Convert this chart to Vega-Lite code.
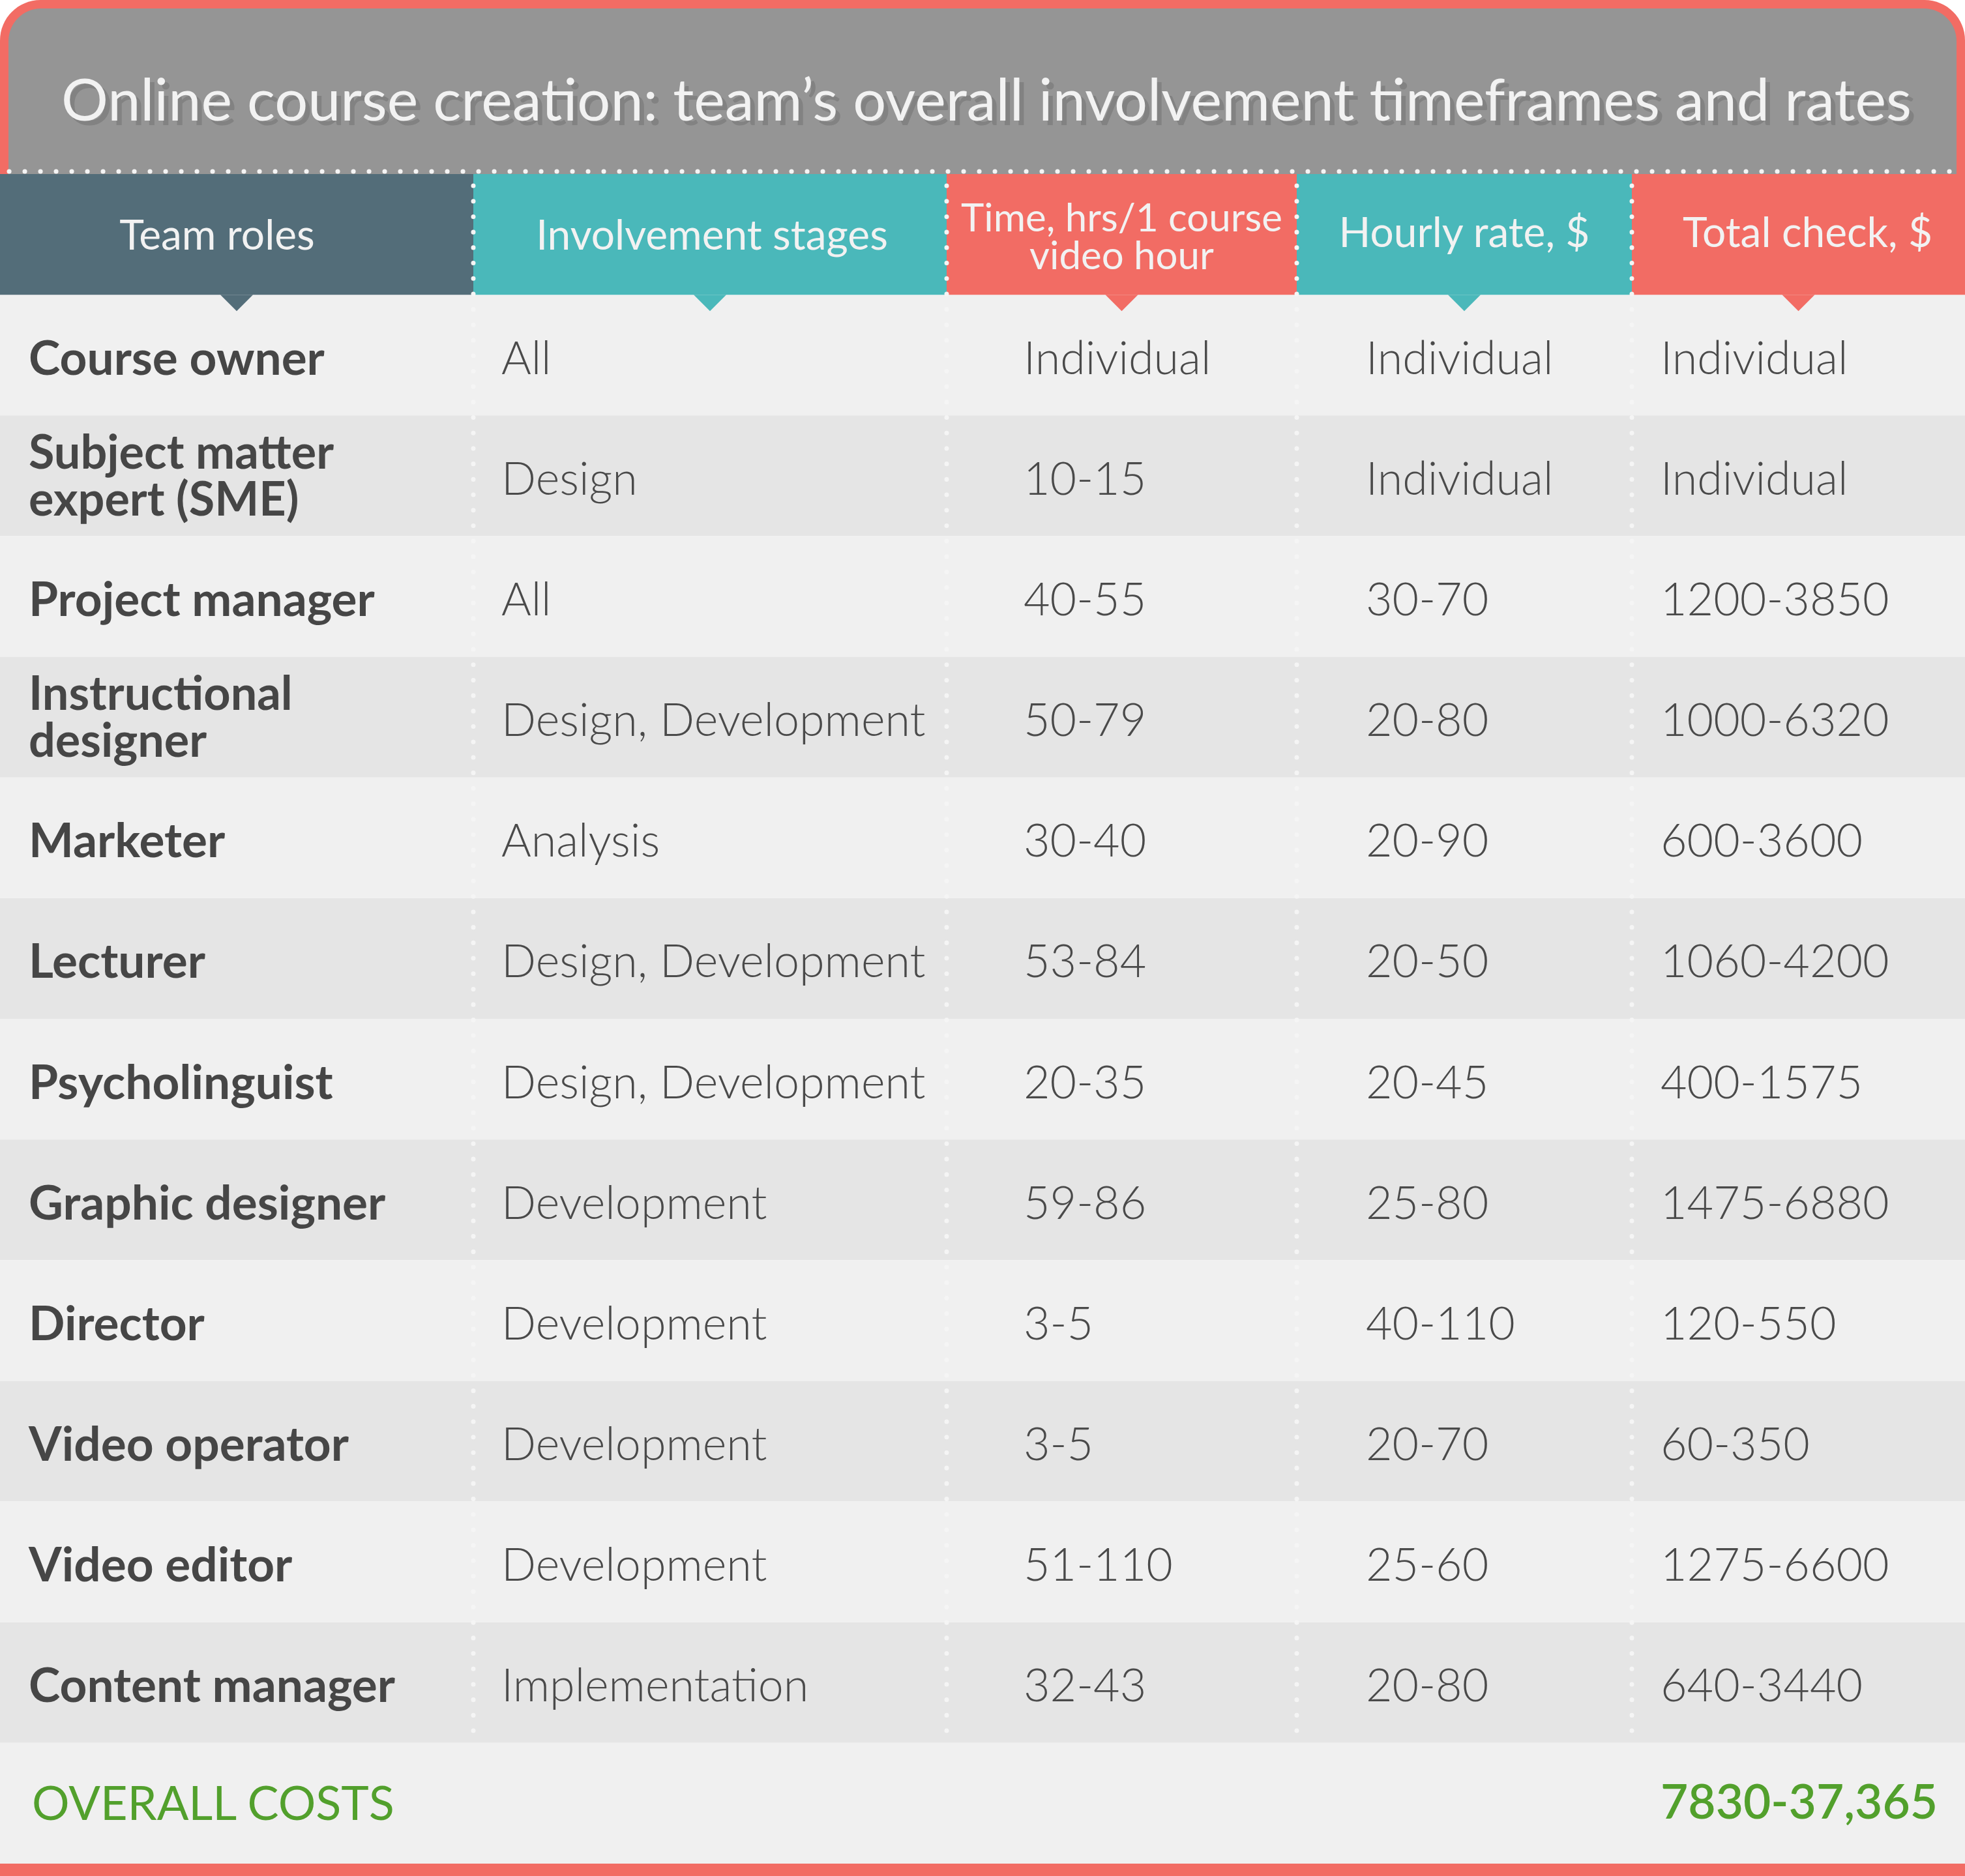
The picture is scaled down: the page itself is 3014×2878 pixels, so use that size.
{
  "$schema": "https://vega.github.io/schema/vega-lite/v6.json",
  "padding": 0,
  "background": "#ffffff",
  "config": {"view": {"stroke": null}, "font": "Lato"},
  "datasets": {
    "rows": [
      {"n": 1, "role": "Course owner", "stages": "All", "time": "Individual", "rate": "Individual", "total": "Individual"},
      {"n": 2, "role": "Subject matter\nexpert (SME)", "stages": "Design", "time": "10-15", "rate": "Individual", "total": "Individual"},
      {"n": 3, "role": "Project manager", "stages": "All", "time": "40-55", "rate": "30-70", "total": "1200-3850"},
      {"n": 4, "role": "Instructional\ndesigner", "stages": "Design, Development", "time": "50-79", "rate": "20-80", "total": "1000-6320"},
      {"n": 5, "role": "Marketer", "stages": "Analysis", "time": "30-40", "rate": "20-90", "total": "600-3600"},
      {"n": 6, "role": "Lecturer", "stages": "Design, Development", "time": "53-84", "rate": "20-50", "total": "1060-4200"},
      {"n": 7, "role": "Psycholinguist", "stages": "Design, Development", "time": "20-35", "rate": "20-45", "total": "400-1575"},
      {"n": 8, "role": "Graphic designer", "stages": "Development", "time": "59-86", "rate": "25-80", "total": "1475-6880"},
      {"n": 9, "role": "Director", "stages": "Development", "time": "3-5", "rate": "40-110", "total": "120-550"},
      {"n": 10, "role": "Video operator", "stages": "Development", "time": "3-5", "rate": "20-70", "total": "60-350"},
      {"n": 11, "role": "Video editor", "stages": "Development", "time": "51-110", "rate": "25-60", "total": "1275-6600"},
      {"n": 12, "role": "Content manager", "stages": "Implementation", "time": "32-43", "rate": "20-80", "total": "640-3440"}
    ]
  },
  "vconcat": [
    {
      "width": 3014,
      "height": 267,
      "data": {"values": [{"title": "Online course creation: team’s overall involvement timeframes and rates"}]},
      "encoding": {
        "x": {"datum": 0, "type": "quantitative", "scale": {"domain": [0, 1], "nice": false, "zero": false}, "axis": null},
        "y": {"datum": 1, "type": "quantitative", "scale": {"domain": [0, 1], "nice": false, "zero": false}, "axis": null}
      },
      "layer": [
        {"mark": {"type": "rect", "color": "#f26c64", "cornerRadiusTopLeft": 62, "cornerRadiusTopRight": 62}, "encoding": {"x2": {"datum": 1}, "y2": {"datum": 0}}},
        {"mark": {"type": "rect", "color": "#959595", "cornerRadiusTopLeft": 50, "cornerRadiusTopRight": 50, "xOffset": 13, "x2Offset": -13, "yOffset": 13}, "encoding": {"x2": {"datum": 1}, "y2": {"datum": 0}}},
        {"mark": {"type": "rule", "color": "#f5f5f5", "strokeWidth": 7, "strokeCap": "round", "strokeDash": [0.1, 23.9], "xOffset": 14, "x2Offset": -14, "yOffset": -4}, "encoding": {"y": {"datum": 0}, "x2": {"datum": 1}}},
        {"mark": {"type": "text", "color": "#828282", "font": "Lato", "fontSize": 90, "align": "center", "baseline": "alphabetic", "dx": 13, "dy": 7}, "encoding": {"x": {"datum": 0.5}, "y": {"datum": 0.307}, "text": {"field": "title"}}},
        {"mark": {"type": "text", "color": "#f2f2f2", "font": "Lato", "fontSize": 90, "align": "center", "baseline": "alphabetic", "dx": 6}, "encoding": {"x": {"datum": 0.5}, "y": {"datum": 0.307}, "text": {"field": "title"}}}
      ]
    },
    {
      "spacing": 0,
      "bounds": "flush",
      "resolve": {"scale": {"x": "independent", "y": "independent"}},
      "hconcat": [
        {
          "width": 726,
          "height": 2592,
          "encoding": {
            "x": {"datum": 0, "type": "quantitative", "scale": {"domain": [0, 1], "nice": false, "zero": false}, "axis": null},
            "y": {"field": "role", "type": "nominal", "scale": {"type": "band", "domain": ["HEAD", "Course owner", "Subject matter\nexpert (SME)", "Project manager", "Instructional\ndesigner", "Marketer", "Lecturer", "Psycholinguist", "Graphic designer", "Director", "Video operator", "Video editor", "Content manager", "TOTAL"], "paddingInner": 0, "paddingOuter": 0}, "axis": null}
          },
          "layer": [
            {"data": {"name": "rows"}, "mark": {"type": "rect"}, "encoding": {"x2": {"datum": 1}, "color": {"field": "n", "type": "ordinal", "scale": {"domain": [1,2,3,4,5,6,7,8,9,10,11,12], "range": ["#f0f0f0","#e5e5e5","#f0f0f0","#e5e5e5","#f0f0f0","#e5e5e5","#f0f0f0","#e5e5e5","#f0f0f0","#e5e5e5","#f0f0f0","#e5e5e5"]}, "legend": null}}},
            {"data": {"values": [{"role": "TOTAL", "label": "OVERALL COSTS"}]}, "layer": [
              {"mark": {"type": "rect", "color": "#f0f0f0"}, "encoding": {"x2": {"datum": 1}}},
              {"mark": {"type": "text", "color": "#52a02c", "font": "Lato", "fontSize": 72, "align": "left", "baseline": "middle", "dx": 49, "dy": 4}, "encoding": {"text": {"field": "label"}}}
            ]},
            {"data": {"values": [{"role": "HEAD", "label": "Team roles"}]}, "layer": [
              {"mark": {"type": "rect", "color": "#536d79"}, "encoding": {"x2": {"datum": 1}}},
              {"mark": {"type": "point", "shape": "M -1 0 L 1 0 L 0 1 Z", "size": 2500, "filled": true, "opacity": 1, "strokeWidth": 0, "color": "#536d79"}, "encoding": {"x": {"datum": 0.5}, "y": {"field": "role", "type": "nominal", "bandPosition": 1}}},
              {"mark": {"type": "text", "color": "#f2f2f2", "font": "Lato", "fontSize": 64, "align": "center", "baseline": "middle", "dx": -30, "dy": 4}, "encoding": {"x": {"datum": 0.5}, "text": {"field": "label"}}}
            ]},
            {"data": {"name": "rows"}, "transform": [{"filter": "indexof(datum.role, '\\n') < 0"}], "mark": {"type": "text", "color": "#464646", "font": "Lato", "fontWeight": "bold", "fontSize": 73, "align": "left", "baseline": "middle", "dx": 44, "dy": 8}, "encoding": {"text": {"field": "role"}}},
            {"data": {"name": "rows"}, "transform": [{"filter": "indexof(datum.role, '\\n') >= 0"}], "mark": {"type": "text", "color": "#464646", "font": "Lato", "fontWeight": "bold", "fontSize": 72, "align": "left", "baseline": "middle", "lineBreak": "\n", "lineHeight": 72, "dx": 44, "dy": -33}, "encoding": {"text": {"field": "role"}}}
          ]
        },
        {
          "width": 726,
          "height": 2592,
          "encoding": {
            "x": {"datum": 0, "type": "quantitative", "scale": {"domain": [0, 1], "nice": false, "zero": false}, "axis": null},
            "y": {"field": "role", "type": "nominal", "scale": {"type": "band", "domain": ["HEAD", "Course owner", "Subject matter\nexpert (SME)", "Project manager", "Instructional\ndesigner", "Marketer", "Lecturer", "Psycholinguist", "Graphic designer", "Director", "Video operator", "Video editor", "Content manager", "TOTAL"], "paddingInner": 0, "paddingOuter": 0}, "axis": null}
          },
          "layer": [
            {"data": {"name": "rows"}, "mark": {"type": "rect"}, "encoding": {"x2": {"datum": 1}, "color": {"field": "n", "type": "ordinal", "scale": {"domain": [1,2,3,4,5,6,7,8,9,10,11,12], "range": ["#f0f0f0","#e5e5e5","#f0f0f0","#e5e5e5","#f0f0f0","#e5e5e5","#f0f0f0","#e5e5e5","#f0f0f0","#e5e5e5","#f0f0f0","#e5e5e5"]}, "legend": null}}},
            {"data": {"values": [{"role": "TOTAL"}]}, "mark": {"type": "rect", "color": "#f0f0f0"}, "encoding": {"x2": {"datum": 1}}},
            {"data": {"values": [{"role": "HEAD", "label": "Involvement stages"}]}, "layer": [
              {"mark": {"type": "rect", "color": "#4ab8ba"}, "encoding": {"x2": {"datum": 1}}},
              {"mark": {"type": "point", "shape": "M -1 0 L 1 0 L 0 1 Z", "size": 2500, "filled": true, "opacity": 1, "strokeWidth": 0, "color": "#4ab8ba"}, "encoding": {"x": {"datum": 0.5}, "y": {"field": "role", "type": "nominal", "bandPosition": 1}}},
              {"mark": {"type": "text", "color": "#f2f2f2", "font": "Lato", "fontSize": 64, "align": "center", "baseline": "middle", "dx": 3, "dy": 4}, "encoding": {"x": {"datum": 0.5}, "text": {"field": "label"}}}
            ]},
            {"data": {"values": [{"k": 1}]}, "mark": {"type": "rule", "color": "#f5f5f5", "strokeWidth": 7, "strokeCap": "round", "strokeDash": [0.1, 23.6], "yOffset": 18}, "encoding": {"y": {"datum": "HEAD", "bandPosition": 0}, "y2": {"datum": "TOTAL", "bandPosition": 0}, "x": {"datum": 0}}},
            {"data": {"name": "rows"}, "mark": {"type": "text", "color": "#4a4a4a", "font": "Lato", "fontWeight": 300, "fontSize": 70, "align": "left", "baseline": "middle", "dx": 43, "dy": 8}, "encoding": {"text": {"field": "stages"}}}
          ]
        },
        {
          "width": 537,
          "height": 2592,
          "encoding": {
            "x": {"datum": 0, "type": "quantitative", "scale": {"domain": [0, 1], "nice": false, "zero": false}, "axis": null},
            "y": {"field": "role", "type": "nominal", "scale": {"type": "band", "domain": ["HEAD", "Course owner", "Subject matter\nexpert (SME)", "Project manager", "Instructional\ndesigner", "Marketer", "Lecturer", "Psycholinguist", "Graphic designer", "Director", "Video operator", "Video editor", "Content manager", "TOTAL"], "paddingInner": 0, "paddingOuter": 0}, "axis": null}
          },
          "layer": [
            {"data": {"name": "rows"}, "mark": {"type": "rect"}, "encoding": {"x2": {"datum": 1}, "color": {"field": "n", "type": "ordinal", "scale": {"domain": [1,2,3,4,5,6,7,8,9,10,11,12], "range": ["#f0f0f0","#e5e5e5","#f0f0f0","#e5e5e5","#f0f0f0","#e5e5e5","#f0f0f0","#e5e5e5","#f0f0f0","#e5e5e5","#f0f0f0","#e5e5e5"]}, "legend": null}}},
            {"data": {"values": [{"role": "TOTAL"}]}, "mark": {"type": "rect", "color": "#f0f0f0"}, "encoding": {"x2": {"datum": 1}}},
            {"data": {"values": [{"role": "HEAD", "label": "Time, hrs/1 course\nvideo hour"}]}, "layer": [
              {"mark": {"type": "rect", "color": "#f26c64"}, "encoding": {"x2": {"datum": 1}}},
              {"mark": {"type": "point", "shape": "M -1 0 L 1 0 L 0 1 Z", "size": 2500, "filled": true, "opacity": 1, "strokeWidth": 0, "color": "#f26c64"}, "encoding": {"x": {"datum": 0.5}, "y": {"field": "role", "type": "nominal", "bandPosition": 1}}},
              {"mark": {"type": "text", "color": "#f2f2f2", "font": "Lato", "fontSize": 60, "align": "center", "baseline": "middle", "lineBreak": "\n", "lineHeight": 58, "dy": -23}, "encoding": {"x": {"datum": 0.5}, "text": {"field": "label"}}}
            ]},
            {"data": {"values": [{"k": 1}]}, "mark": {"type": "rule", "color": "#f5f5f5", "strokeWidth": 7, "strokeCap": "round", "strokeDash": [0.1, 23.6], "yOffset": 18}, "encoding": {"y": {"datum": "HEAD", "bandPosition": 0}, "y2": {"datum": "TOTAL", "bandPosition": 0}, "x": {"datum": 0}}},
            {"data": {"name": "rows"}, "mark": {"type": "text", "color": "#4a4a4a", "font": "Lato", "fontWeight": 300, "fontSize": 70, "align": "left", "baseline": "middle", "dx": 118, "dy": 8}, "encoding": {"text": {"field": "time"}}}
          ]
        },
        {
          "width": 514,
          "height": 2592,
          "encoding": {
            "x": {"datum": 0, "type": "quantitative", "scale": {"domain": [0, 1], "nice": false, "zero": false}, "axis": null},
            "y": {"field": "role", "type": "nominal", "scale": {"type": "band", "domain": ["HEAD", "Course owner", "Subject matter\nexpert (SME)", "Project manager", "Instructional\ndesigner", "Marketer", "Lecturer", "Psycholinguist", "Graphic designer", "Director", "Video operator", "Video editor", "Content manager", "TOTAL"], "paddingInner": 0, "paddingOuter": 0}, "axis": null}
          },
          "layer": [
            {"data": {"name": "rows"}, "mark": {"type": "rect"}, "encoding": {"x2": {"datum": 1}, "color": {"field": "n", "type": "ordinal", "scale": {"domain": [1,2,3,4,5,6,7,8,9,10,11,12], "range": ["#f0f0f0","#e5e5e5","#f0f0f0","#e5e5e5","#f0f0f0","#e5e5e5","#f0f0f0","#e5e5e5","#f0f0f0","#e5e5e5","#f0f0f0","#e5e5e5"]}, "legend": null}}},
            {"data": {"values": [{"role": "TOTAL"}]}, "mark": {"type": "rect", "color": "#f0f0f0"}, "encoding": {"x2": {"datum": 1}}},
            {"data": {"values": [{"role": "HEAD", "label": "Hourly rate, $"}]}, "layer": [
              {"mark": {"type": "rect", "color": "#4ab8ba"}, "encoding": {"x2": {"datum": 1}}},
              {"mark": {"type": "point", "shape": "M -1 0 L 1 0 L 0 1 Z", "size": 2500, "filled": true, "opacity": 1, "strokeWidth": 0, "color": "#4ab8ba"}, "encoding": {"x": {"datum": 0.5}, "y": {"field": "role", "type": "nominal", "bandPosition": 1}}},
              {"mark": {"type": "text", "color": "#f2f2f2", "font": "Lato", "fontSize": 64, "align": "center", "baseline": "middle", "dy": 0}, "encoding": {"x": {"datum": 0.5}, "text": {"field": "label"}}}
            ]},
            {"data": {"values": [{"k": 1}]}, "mark": {"type": "rule", "color": "#f5f5f5", "strokeWidth": 7, "strokeCap": "round", "strokeDash": [0.1, 23.6], "yOffset": 18}, "encoding": {"y": {"datum": "HEAD", "bandPosition": 0}, "y2": {"datum": "TOTAL", "bandPosition": 0}, "x": {"datum": 0}}},
            {"data": {"name": "rows"}, "mark": {"type": "text", "color": "#4a4a4a", "font": "Lato", "fontWeight": 300, "fontSize": 70, "align": "left", "baseline": "middle", "dx": 106, "dy": 8}, "encoding": {"text": {"field": "rate"}}}
          ]
        },
        {
          "width": 511,
          "height": 2592,
          "encoding": {
            "x": {"datum": 0, "type": "quantitative", "scale": {"domain": [0, 1], "nice": false, "zero": false}, "axis": null},
            "y": {"field": "role", "type": "nominal", "scale": {"type": "band", "domain": ["HEAD", "Course owner", "Subject matter\nexpert (SME)", "Project manager", "Instructional\ndesigner", "Marketer", "Lecturer", "Psycholinguist", "Graphic designer", "Director", "Video operator", "Video editor", "Content manager", "TOTAL"], "paddingInner": 0, "paddingOuter": 0}, "axis": null}
          },
          "layer": [
            {"data": {"name": "rows"}, "mark": {"type": "rect"}, "encoding": {"x2": {"datum": 1}, "color": {"field": "n", "type": "ordinal", "scale": {"domain": [1,2,3,4,5,6,7,8,9,10,11,12], "range": ["#f0f0f0","#e5e5e5","#f0f0f0","#e5e5e5","#f0f0f0","#e5e5e5","#f0f0f0","#e5e5e5","#f0f0f0","#e5e5e5","#f0f0f0","#e5e5e5"]}, "legend": null}}},
            {"data": {"values": [{"role": "TOTAL", "label": "7830-37,365"}]}, "layer": [
              {"mark": {"type": "rect", "color": "#f0f0f0"}, "encoding": {"x2": {"datum": 1}}},
              {"mark": {"type": "text", "color": "#52a02c", "font": "Lato", "fontWeight": 600, "fontSize": 73, "align": "left", "baseline": "middle", "dx": 44, "dy": 2}, "encoding": {"text": {"field": "label"}}}
            ]},
            {"data": {"values": [{"role": "HEAD", "label": "Total check, $"}]}, "layer": [
              {"mark": {"type": "rect", "color": "#f26c64"}, "encoding": {"x2": {"datum": 1}}},
              {"mark": {"type": "point", "shape": "M -1 0 L 1 0 L 0 1 Z", "size": 2500, "filled": true, "opacity": 1, "strokeWidth": 0, "color": "#f26c64"}, "encoding": {"x": {"datum": 0.5}, "y": {"field": "role", "type": "nominal", "bandPosition": 1}}},
              {"mark": {"type": "text", "color": "#f2f2f2", "font": "Lato", "fontSize": 64, "align": "center", "baseline": "middle", "dx": 14, "dy": 0}, "encoding": {"x": {"datum": 0.5}, "text": {"field": "label"}}}
            ]},
            {"data": {"values": [{"k": 1}]}, "mark": {"type": "rule", "color": "#f5f5f5", "strokeWidth": 7, "strokeCap": "round", "strokeDash": [0.1, 23.6], "yOffset": 18}, "encoding": {"y": {"datum": "HEAD", "bandPosition": 0}, "y2": {"datum": "TOTAL", "bandPosition": 0}, "x": {"datum": 0}}},
            {"data": {"name": "rows"}, "mark": {"type": "text", "color": "#4a4a4a", "font": "Lato", "fontWeight": 300, "fontSize": 70, "align": "left", "baseline": "middle", "dx": 44, "dy": 8}, "encoding": {"text": {"field": "total"}}}
          ]
        }
      ]
    },
    {
      "width": 3014,
      "height": 19,
      "data": {"values": [{"k": 1}]},
      "mark": {"type": "rect", "color": "#f26c64"},
      "encoding": {
        "x": {"datum": 0, "type": "quantitative", "scale": {"domain": [0, 1], "nice": false, "zero": false}, "axis": null},
        "x2": {"datum": 1},
        "y": {"datum": 1, "type": "quantitative", "scale": {"domain": [0, 1], "nice": false, "zero": false}, "axis": null},
        "y2": {"datum": 0}
      }
    }
  ],
  "spacing": 0,
  "resolve": {"scale": {"x": "independent", "y": "independent"}}
}
